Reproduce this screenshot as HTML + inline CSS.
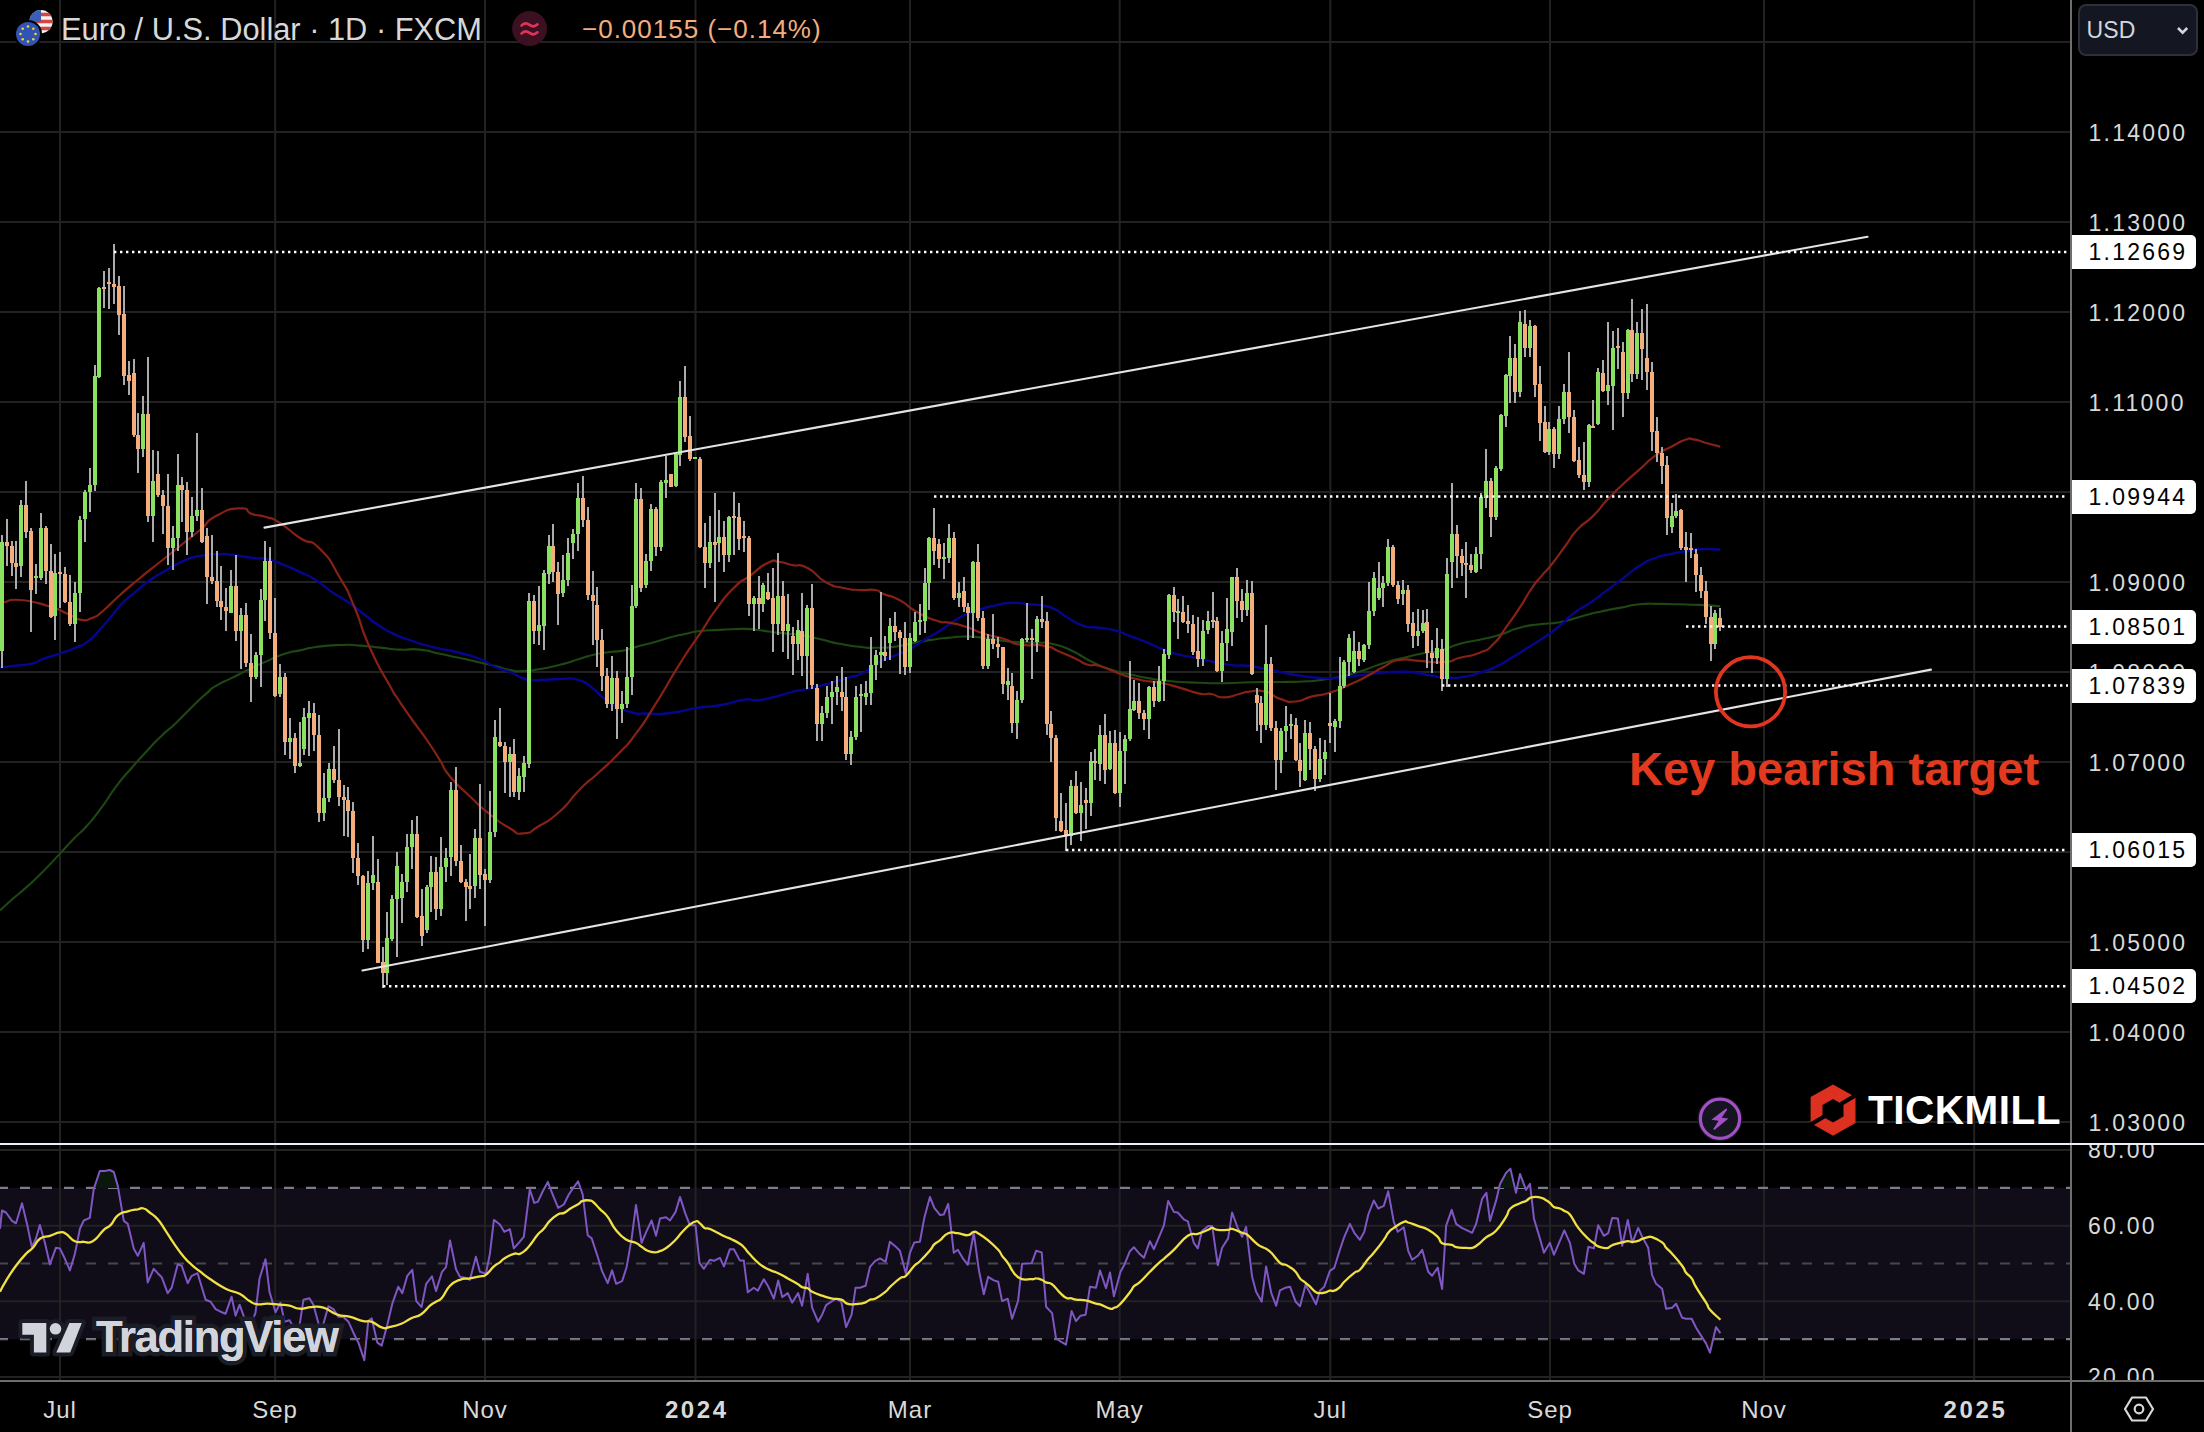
<!DOCTYPE html><html><head><meta charset="utf-8"><title>EURUSD chart</title><style>
*{margin:0;padding:0;box-sizing:border-box}
html,body{width:2204px;height:1432px;background:#000;overflow:hidden}
body{position:relative;font-family:"Liberation Sans",Arial,sans-serif;color:#d6d6d6}
.t{position:absolute;white-space:nowrap;line-height:1}
.pl{position:absolute;left:2088.5px;font-size:23px;letter-spacing:2.25px;line-height:24px;height:24px;white-space:nowrap;color:#d9d9d9}
.pb{position:absolute;left:2072px;width:124px;height:34px;background:#fff;border-radius:0 5px 5px 0;color:#000;font-size:23px;letter-spacing:2.25px;line-height:35.6px;padding-left:16.5px;white-space:nowrap}
.tl{position:absolute;top:1397px;font-size:24px;line-height:26px;letter-spacing:1px;white-space:nowrap;transform:translateX(-50%);color:#d9d9d9}
.tl b{font-weight:700;letter-spacing:2.6px;margin-right:-2.6px}
</style></head><body>
<svg width="2204" height="1432" viewBox="0 0 2204 1432" style="position:absolute;left:0;top:0">
<rect x="0" y="1187.8" width="2070" height="151.4" fill="#100c18"/>
<path d="M60 0V1143M60 1145V1380M275.2 0V1143M275.2 1145V1380M485 0V1143M485 1145V1380M695.5 0V1143M695.5 1145V1380M910 0V1143M910 1145V1380M1119.7 0V1143M1119.7 1145V1380M1330.3 0V1143M1330.3 1145V1380M1550 0V1143M1550 1145V1380M1764 0V1143M1764 1145V1380M1974.2 0V1143M1974.2 1145V1380M0 42H2070M0 132H2070M0 222H2070M0 312H2070M0 402H2070M0 492H2070M0 582H2070M0 672H2070M0 762H2070M0 852H2070M0 942H2070M0 1032H2070M0 1122H2070M0 1150H2070M0 1225.7H2070M0 1301.3H2070M0 1377H2070" stroke="#222222" stroke-width="2" fill="none"/>
<path d="M-2 1187.8H2070M-2 1339.2H2070" stroke="#7b7d88" stroke-width="2.2" stroke-dasharray="10 12" fill="none"/>
<path d="M-2 1263.5H2070" stroke="#454650" stroke-width="2.2" stroke-dasharray="10 12" fill="none"/>
<path d="M0.0 910.5C4.0 906.8 3.3 907.1 12.0 899.5C20.7 891.9 16.7 895.9 26.0 887.6C35.3 879.3 28.7 885.9 40.0 874.6C51.3 863.3 48.7 865.6 60.0 853.6C71.3 841.6 65.3 847.6 74.0 838.6C82.7 829.6 77.3 836.3 86.0 826.7C94.7 817.1 90.0 823.0 100.0 809.7C110.0 796.4 106.0 800.0 116.0 786.7C126.0 773.4 119.3 782.1 130.0 769.8C140.7 757.5 137.3 761.3 148.0 749.8C158.7 738.3 152.7 744.4 162.0 735.4C171.3 726.4 166.0 732.4 176.0 722.9C186.0 713.4 182.0 716.6 192.0 706.9C202.0 697.2 198.0 700.9 206.0 693.9C214.0 686.9 207.3 691.2 216.0 685.9C224.7 680.6 221.3 683.2 232.0 677.9C242.7 672.6 237.3 675.1 248.0 669.9C258.7 664.7 252.0 667.7 264.0 662.4C276.0 657.1 272.0 658.0 284.0 654.0C296.0 650.0 289.3 652.7 300.0 650.4C310.7 648.1 302.7 648.8 316.0 647.0C329.3 645.2 325.3 645.5 340.0 645.0C354.7 644.5 346.7 644.7 360.0 645.6C373.3 646.5 366.7 646.3 380.0 647.6C393.3 648.9 386.7 648.9 400.0 649.6C413.3 650.3 406.7 648.2 420.0 649.6C433.3 651.0 426.7 651.0 440.0 653.8C453.3 656.6 446.7 655.1 460.0 658.0C473.3 660.9 468.3 659.7 480.0 662.4C491.7 665.1 485.0 663.5 495.0 666.0C505.0 668.5 500.7 668.3 510.0 670.0C519.3 671.7 513.0 671.3 523.0 671.0C533.0 670.7 527.7 671.1 540.0 669.0C552.3 666.9 546.7 668.2 560.0 664.8C573.3 661.4 568.3 662.3 580.0 658.8C591.7 655.3 585.0 656.7 595.0 654.4C605.0 652.1 600.0 653.4 610.0 652.0C620.0 650.6 615.0 652.3 625.0 650.2C635.0 648.1 630.0 648.5 640.0 645.8C650.0 643.1 645.0 644.8 655.0 642.0C665.0 639.2 660.0 640.2 670.0 637.5C680.0 634.8 675.0 636.2 685.0 634.0C695.0 631.8 688.3 632.4 700.0 631.0C711.7 629.6 705.4 630.6 720.0 629.9C734.6 629.2 730.5 628.8 743.7 628.9C756.9 629.0 747.6 629.0 759.6 630.3C771.6 631.6 766.3 631.4 779.6 632.9C792.9 634.4 786.3 632.9 799.6 634.9C812.9 636.9 806.2 635.9 819.5 638.9C832.8 641.9 826.2 641.2 839.5 643.8C852.8 646.4 847.5 645.5 859.5 646.8C871.5 648.1 863.4 647.9 875.4 647.8C887.4 647.7 882.1 648.3 895.4 646.6C908.7 644.9 903.4 644.8 915.4 642.6C927.4 640.4 920.7 641.5 931.3 639.9C941.9 638.3 935.3 639.0 947.3 637.9C959.3 636.8 953.8 636.3 967.3 636.5C980.8 636.7 973.0 636.8 987.8 638.5C1002.6 640.2 995.8 640.3 1011.8 641.7C1027.8 643.1 1022.5 642.0 1035.8 642.7C1049.1 643.4 1039.7 641.0 1051.7 643.7C1063.7 646.4 1058.4 644.7 1071.7 650.7C1085.0 656.7 1078.4 655.4 1091.7 661.7C1105.0 668.0 1098.3 665.4 1111.6 669.7C1124.9 674.0 1118.3 671.7 1131.6 674.7C1144.9 677.7 1138.2 676.5 1151.5 678.7C1164.8 680.9 1155.5 680.0 1171.5 681.3C1187.5 682.6 1182.2 682.1 1199.5 682.7C1216.8 683.3 1206.1 683.4 1223.4 683.2C1240.7 683.0 1232.8 682.6 1251.4 682.2C1270.0 681.8 1260.7 682.3 1279.3 682.0C1297.9 681.7 1291.3 682.3 1307.3 681.3C1323.3 680.3 1313.9 681.1 1327.3 679.0C1340.7 676.9 1334.1 678.4 1347.4 675.0C1360.7 671.6 1354.0 673.3 1367.3 668.9C1380.6 664.5 1374.0 665.9 1387.3 661.9C1400.6 657.9 1394.0 660.0 1407.3 656.9C1420.6 653.8 1416.4 654.5 1427.2 652.5C1438.0 650.5 1428.9 653.7 1439.8 650.8C1450.7 647.9 1446.5 647.5 1459.8 643.8C1473.1 640.1 1466.4 642.8 1479.7 639.8C1493.0 636.8 1486.4 638.8 1499.7 634.8C1513.0 630.8 1506.3 631.3 1519.6 627.8C1532.9 624.3 1526.3 626.0 1539.6 624.2C1552.9 622.4 1546.3 624.7 1559.6 622.3C1572.9 619.9 1566.2 620.4 1579.5 616.9C1592.8 613.4 1586.2 614.9 1599.5 611.9C1612.8 608.9 1606.2 610.4 1619.5 607.9C1632.8 605.4 1626.1 605.6 1639.4 604.3C1652.7 603.0 1646.1 603.9 1659.4 603.9C1672.7 603.9 1666.1 604.0 1679.4 604.3C1692.7 604.6 1685.7 604.2 1699.3 604.9C1712.9 605.6 1713.3 605.8 1720.3 606.3" fill="none" stroke="#1d4812" stroke-width="2.1" stroke-linejoin="round"/>
<path d="M0.0 667.6C5.3 666.9 5.3 666.9 16.0 665.6C26.7 664.3 22.7 665.9 32.0 663.6C41.3 661.3 34.7 661.9 44.0 658.6C53.3 655.3 49.3 657.3 60.0 653.6C70.7 649.9 66.7 651.6 76.0 647.6C85.3 643.6 79.9 647.6 87.8 641.6C95.7 635.6 91.8 638.3 99.8 629.7C107.8 621.1 103.8 625.0 111.8 615.7C119.8 606.4 115.8 609.7 123.8 601.7C131.8 593.7 127.8 598.4 135.8 591.7C143.8 585.0 138.4 588.3 147.7 581.7C157.0 575.1 151.7 578.8 163.7 571.8C175.7 564.8 170.4 566.3 183.7 560.8C197.0 555.3 191.6 557.6 203.6 555.4C215.6 553.2 210.3 554.4 219.6 554.2C228.9 554.0 221.0 553.6 231.6 554.8C242.2 556.0 239.5 556.3 251.5 557.8C263.5 559.3 256.8 557.1 267.5 559.4C278.2 561.7 272.8 560.7 283.5 564.8C294.2 568.9 288.9 566.8 299.5 571.8C310.1 576.8 304.8 573.1 315.4 579.7C326.0 586.3 320.7 584.4 331.4 591.7C342.1 599.0 336.8 594.4 347.4 601.7C358.0 609.0 352.7 605.7 363.3 613.7C373.9 621.7 368.6 618.7 379.3 625.7C390.0 632.7 384.6 629.6 395.3 634.6C406.0 639.6 400.7 636.9 411.3 640.6C421.9 644.3 417.6 642.9 427.2 645.6C436.8 648.3 429.1 646.1 440.0 648.6C450.9 651.1 446.7 649.5 460.0 653.0C473.3 656.5 468.3 654.3 480.0 659.0C491.7 663.7 485.0 662.7 495.0 667.0C505.0 671.3 500.0 668.0 510.0 672.0C520.0 676.0 515.0 676.3 525.0 679.0C535.0 681.7 528.3 680.0 540.0 680.0C551.7 680.0 547.3 679.1 560.0 679.0C572.7 678.9 567.3 676.9 578.0 679.8C588.7 682.7 582.7 681.2 592.0 687.8C601.3 694.4 594.7 692.1 606.0 699.7C617.3 707.3 611.3 706.0 625.9 710.7C640.5 715.4 634.5 713.0 649.8 713.7C665.1 714.4 656.5 714.6 671.8 712.7C687.1 710.8 679.8 710.6 695.8 708.1C711.8 705.6 703.7 708.1 719.7 705.3C735.7 702.5 731.7 701.4 743.7 699.7C755.7 698.0 746.3 701.0 755.6 700.3C764.9 699.6 759.6 700.4 771.6 697.7C783.6 695.0 779.6 695.2 791.6 692.2C803.6 689.2 795.6 691.6 807.6 688.8C819.6 686.0 814.2 687.5 827.5 683.8C840.8 680.1 835.5 681.5 847.5 677.8C859.5 674.1 852.9 678.1 863.5 672.8C874.1 667.5 867.4 668.1 879.4 661.8C891.4 655.5 888.5 658.5 899.4 653.8C910.3 649.1 902.5 653.1 912.0 647.7C921.5 642.3 918.7 643.4 928.0 637.7C937.3 632.0 930.7 636.7 940.0 630.7C949.3 624.7 946.6 625.4 955.9 619.8C965.2 614.2 959.9 617.3 967.9 613.8C975.9 610.3 970.6 612.2 979.9 609.4C989.2 606.6 985.2 607.6 995.8 605.4C1006.4 603.2 1001.1 603.2 1011.8 602.8C1022.5 602.4 1017.2 603.2 1027.8 604.2C1038.4 605.2 1034.4 603.9 1043.7 605.8C1053.0 607.7 1047.7 605.8 1055.7 609.8C1063.7 613.8 1058.4 612.5 1067.7 617.8C1077.0 623.1 1073.1 622.5 1083.7 625.8C1094.3 629.1 1089.0 626.2 1099.6 627.8C1110.2 629.4 1104.9 627.7 1115.6 630.7C1126.3 633.7 1120.9 632.7 1131.6 636.7C1142.3 640.7 1137.0 638.4 1147.6 642.7C1158.2 647.0 1152.9 645.7 1163.5 649.7C1174.1 653.7 1168.8 652.0 1179.5 654.7C1190.2 657.4 1184.9 655.5 1195.5 657.7C1206.1 659.9 1199.4 658.8 1211.4 661.3C1223.4 663.8 1219.4 663.6 1231.4 665.1C1243.4 666.6 1236.8 664.6 1247.4 665.7C1258.0 666.8 1252.7 666.5 1263.3 668.5C1273.9 670.5 1267.3 669.4 1279.3 671.8C1291.3 674.2 1285.7 673.6 1299.3 675.6C1312.9 677.6 1307.8 677.2 1320.0 677.9C1332.2 678.6 1324.0 678.5 1336.0 677.8C1348.0 677.1 1342.7 677.3 1356.0 675.8C1369.3 674.3 1361.3 674.7 1376.0 673.4C1390.7 672.1 1386.7 672.0 1400.0 671.8C1413.3 671.6 1405.3 671.5 1416.0 672.8C1426.7 674.1 1421.3 674.1 1432.0 675.8C1442.7 677.5 1437.3 677.5 1448.0 677.8C1458.7 678.1 1453.4 678.5 1464.0 676.8C1474.6 675.1 1469.1 676.1 1479.7 672.8C1490.3 669.5 1485.0 671.8 1495.7 666.8C1506.4 661.8 1501.1 664.1 1511.7 657.8C1522.3 651.5 1517.0 654.5 1527.6 647.8C1538.2 641.1 1532.9 645.1 1543.6 637.8C1554.3 630.5 1549.0 634.4 1559.6 625.8C1570.2 617.2 1564.9 619.9 1575.5 611.9C1586.1 603.9 1580.8 609.2 1591.5 601.9C1602.2 594.6 1596.8 597.9 1607.5 589.9C1618.2 581.9 1612.9 585.9 1623.5 577.9C1634.1 569.9 1628.8 572.6 1639.4 566.0C1650.0 559.4 1644.7 562.0 1655.4 558.0C1666.1 554.0 1660.8 556.3 1671.4 554.0C1682.0 551.7 1676.7 552.7 1687.3 551.0C1697.9 549.3 1692.3 549.5 1703.3 549.0C1714.3 548.5 1714.6 549.4 1720.3 549.6" fill="none" stroke="#05058e" stroke-width="2.4" stroke-linejoin="round"/>
<path d="M0.0 601.0C1.3 601.3 -2.7 602.3 4.0 602.0C10.7 601.7 5.3 598.7 20.0 600.0C34.7 601.3 32.0 601.3 48.0 606.0C64.0 610.7 57.3 609.5 68.0 614.0C78.7 618.5 72.0 618.3 80.0 619.6C88.0 620.9 84.0 621.2 92.0 618.0C100.0 614.8 94.7 617.7 104.0 610.0C113.3 602.3 108.0 605.7 120.0 595.0C132.0 584.3 126.7 589.0 140.0 578.0C153.3 567.0 146.7 572.7 160.0 562.0C173.3 551.3 166.7 556.7 180.0 546.0C193.3 535.3 188.0 540.0 200.0 530.0C212.0 520.0 202.7 523.2 216.0 516.0C229.3 508.8 228.0 509.1 240.0 508.4C252.0 507.7 243.3 511.1 252.0 514.0C260.7 516.9 256.7 514.0 266.0 517.0C275.3 520.0 268.7 516.0 280.0 523.0C291.3 530.0 286.7 529.3 300.0 538.0C313.3 546.7 306.7 535.7 320.0 549.0C333.3 562.3 328.7 559.0 340.0 578.0C351.3 597.0 344.0 582.7 354.0 606.0C364.0 629.3 358.0 621.3 370.0 648.0C382.0 674.7 380.9 669.3 390.0 686.0C399.1 702.7 390.2 687.2 397.3 698.0C404.4 708.8 401.3 704.3 411.3 718.5C421.3 732.7 417.7 726.7 427.2 740.5C436.7 754.3 432.3 748.2 439.8 760.0C447.3 771.8 439.7 764.0 449.6 776.0C459.5 788.0 456.2 783.3 469.5 796.0C482.8 808.7 476.2 803.3 489.5 814.0C502.8 824.7 498.1 821.5 509.4 828.0C520.7 834.5 513.4 834.1 523.4 833.4C533.4 832.7 527.4 833.0 539.4 825.8C551.4 818.6 546.1 823.7 559.4 811.8C572.7 799.9 566.0 803.3 579.3 790.0C592.6 776.7 586.0 784.3 599.3 772.0C612.6 759.7 607.0 765.8 619.2 753.0C631.4 740.2 623.7 750.1 635.9 733.7C648.1 717.3 641.2 727.0 655.8 703.7C670.4 680.4 665.1 687.1 679.8 663.8C694.5 640.5 687.8 651.9 699.8 633.9C711.8 615.9 704.4 625.2 715.7 609.9C727.0 594.6 722.4 599.3 733.7 588.0C745.0 576.7 738.4 584.3 749.7 576.0C761.0 567.7 757.6 567.7 767.6 563.0C777.6 558.3 771.6 561.3 779.6 562.0C787.6 562.7 782.3 563.0 791.6 565.0C800.9 567.0 796.3 562.3 807.6 568.0C818.9 573.7 813.5 575.3 825.5 582.0C837.5 588.7 832.2 585.3 843.5 588.0C854.8 590.7 848.9 589.3 859.5 590.0C870.1 590.7 867.4 588.7 875.4 590.0C883.4 591.3 875.4 590.7 883.4 594.0C891.4 597.3 888.5 594.2 899.4 600.0C910.3 605.8 903.8 604.7 916.0 611.5C928.2 618.3 924.7 616.7 936.0 620.5C947.3 624.3 940.0 620.7 950.0 622.8C960.0 624.9 954.6 623.2 965.9 626.8C977.2 630.4 971.3 629.7 983.9 633.7C996.5 637.7 991.8 635.0 1003.8 638.7C1015.8 642.4 1006.5 642.4 1019.8 644.7C1033.1 647.0 1030.4 643.4 1043.7 645.7C1057.0 648.0 1049.0 647.4 1059.7 651.7C1070.4 656.0 1066.4 654.4 1075.7 658.7C1085.0 663.0 1079.7 662.3 1087.7 664.7C1095.7 667.1 1089.0 663.0 1099.6 666.0C1110.2 669.0 1106.3 669.1 1119.6 673.7C1132.9 678.3 1126.3 676.7 1139.6 679.7C1152.9 682.7 1146.2 680.1 1159.5 682.7C1172.8 685.3 1166.2 684.0 1179.5 687.6C1192.8 691.2 1188.9 691.5 1199.5 693.6C1210.1 695.7 1203.4 692.7 1211.4 694.0C1219.4 695.3 1214.1 697.4 1223.4 697.4C1232.7 697.4 1230.7 695.9 1239.4 694.0C1248.1 692.1 1240.8 692.4 1249.4 691.6C1258.0 690.8 1255.3 689.3 1265.3 691.6C1275.3 693.9 1269.3 695.3 1279.3 698.6C1289.3 701.9 1284.6 702.2 1295.3 701.5C1306.0 700.8 1299.9 699.5 1311.3 696.6C1322.7 693.7 1316.5 696.8 1329.4 692.8C1342.3 688.8 1336.7 690.4 1350.0 684.5C1363.3 678.6 1358.2 680.8 1369.3 675.0C1380.4 669.2 1373.3 672.0 1383.3 667.0C1393.3 662.0 1387.3 662.0 1399.3 660.0C1411.3 658.0 1404.4 660.2 1419.2 660.9C1434.0 661.6 1430.3 663.2 1443.8 662.2C1457.3 661.2 1447.8 660.9 1459.8 657.8C1471.8 654.7 1468.4 657.5 1479.7 652.8C1491.0 648.1 1485.0 652.1 1493.7 643.8C1502.4 635.5 1497.1 639.8 1505.7 627.8C1514.3 615.8 1511.0 621.0 1519.6 607.9C1528.2 594.8 1524.3 599.2 1531.6 588.5C1538.9 577.8 1534.9 583.9 1541.6 575.9C1548.3 567.9 1543.6 574.6 1551.6 564.5C1559.6 554.4 1557.0 557.1 1565.6 545.5C1574.2 533.9 1568.2 539.6 1577.5 529.6C1586.8 519.6 1583.5 525.6 1593.5 515.6C1603.5 505.6 1597.5 510.2 1607.5 499.6C1617.5 489.0 1612.9 493.7 1623.5 483.7C1634.1 473.7 1628.8 479.0 1639.4 469.7C1650.0 460.4 1644.7 463.4 1655.4 455.7C1666.1 448.0 1661.4 452.0 1671.4 446.7C1681.4 441.4 1678.0 442.2 1685.3 439.7C1692.6 437.2 1686.6 438.3 1693.3 439.3C1700.0 440.3 1696.3 440.2 1705.3 442.7C1714.3 445.2 1715.3 445.4 1720.3 446.7" fill="none" stroke="#872115" stroke-width="2.2" stroke-linejoin="round"/>
<path d="M2 534.8V667.6M7 518.9V565.8M12 540.8V575.8M16 540.8V588.7M21 499.9V576.8M26 480.5V537.8M31 527.8V631.7M36 563.8V593.7M41 512.9V579.7M46 525.8V583.7M51 543.8V617.7M55 553.8V639.6M60 551.8V607.7M65 566.8V602.7M70 574.8V625.7M75 581.7V641.6M80 515.9V611.7M85 489.9V541.8M90 467.9V511.9M95 365.2V490.9M99 287.1V378.3M104 271.2V308.0M109 268.1V308.9M114 244.1V304.0M119 276.3V334.9M124 286.2V385.2M129 361.2V395.2M134 359.4V436.9M138 413.3V472.9M143 396.1V456.9M148 357.4V521.9M153 450.0V541.8M158 451.0V496.9M163 489.9V533.8M168 473.5V565.4M173 525.8V569.8M178 454.4V550.8M182 476.9V521.9M187 481.5V555.4M192 496.9V536.8M197 433.3V520.9M202 487.9V543.4M207 527.8V604.1M212 534.8V583.7M217 550.8V607.3M221 565.8V620.1M226 587.7V631.3M231 569.8V613.3M236 554.8V640.6M241 607.7V669.2M246 602.7V667.2M251 633.7V701.9M256 651.6V678.6M261 588.7V687.2M265 540.8V621.3M270 546.8V639.2M275 597.7V696.5M280 663.6V696.5M285 672.8V755.4M290 717.9V759.1M295 732.9V773.4M300 721.9V767.3M304 707.9V754.9M309 700.9V756.3M314 702.9V751.2M319 715.0V822.2M324 772.9V821.4M329 762.9V802.2M334 745.9V782.9M339 729.0V806.2M344 784.9V836.2M348 786.9V836.8M353 801.8V873.3M358 842.8V885.3M363 874.7V951.6M368 870.7V948.6M373 835.8V890.1M378 858.7V963.1M383 947.2V987.5M387 912.0V984.5M392 894.7V940.6M397 852.1V956.6M402 874.1V923.2M407 833.8V892.1M412 819.8V868.7M417 815.8V917.6M422 889.3V945.6M427 884.7V933.2M431 856.1V911.6M436 857.3V920.0M441 836.8V915.6M446 847.8V882.1M451 781.9V876.1M456 766.9V866.1M461 845.4V882.7M466 878.7V921.2M470 854.1V909.2M475 829.4V898.1M480 783.9V889.3M485 869.3V925.6M490 790.9V882.7M495 719.6V837.4M500 708.0V746.9M505 741.5V793.4M510 746.9V797.4M514 738.9V797.4M519 767.9V800.2M524 755.9V792.3M529 592.6V767.5M534 594.6V643.7M539 585.6V645.0M544 569.6V650.0M549 535.3V583.6M553 523.7V581.6M558 561.6V624.5M563 554.6V597.2M568 537.7V586.3M573 528.7V559.2M578 483.4V550.6M583 476.2V527.3M588 506.7V600.2M593 570.8V644.8M597 586.8V667.4M602 628.7V690.8M607 667.8V708.1M612 655.8V710.7M617 670.8V739.4M622 690.8V723.4M627 646.8V708.1M632 584.8V695.4M636 483.4V608.2M641 488.2V592.3M646 553.6V588.3M651 503.7V571.3M656 506.7V555.6M661 480.2V550.6M666 455.8V497.7M671 474.2V487.4M676 451.8V486.8M680 380.9V466.2M685 366.0V442.2M690 416.3V461.4M695 457.4V459.4M700 456.8V547.6M705 522.7V588.3M710 516.1V568.3M715 493.3V602.2M719 510.1V561.6M724 521.3V572.3M729 515.7V561.6M734 492.1V554.6M739 503.3V549.6M744 521.3V551.6M749 535.7V616.2M754 596.0V631.2M759 575.6V629.2M763 583.3V612.4M768 573.4V599.5M773 567.6V652.2M778 552.6V634.9M783 580.8V652.2M788 594.4V658.8M793 626.7V675.4M798 619.5V659.8M802 592.8V676.2M807 604.7V688.8M812 583.6V689.4M817 683.8V740.7M822 706.1V741.3M827 686.2V718.1M832 681.4V724.1M837 675.8V705.3M842 666.8V710.7M846 676.8V760.0M851 730.7V765.2M856 685.8V740.1M861 683.8V732.1M866 680.8V705.3M871 636.9V705.3M876 649.8V680.2M881 592.3V668.2M885 635.5V660.8M890 617.9V660.2M895 612.3V640.9M900 629.9V674.2M905 621.8V675.0M910 632.8V673.0M915 611.8V641.8M920 603.9V634.8M925 567.7V633.1M929 536.9V610.3M934 508.4V565.2M939 538.9V568.1M944 542.9V578.9M949 524.3V563.2M954 532.3V599.5M959 581.7V606.6M964 576.9V612.2M968 602.9V640.2M973 560.9V638.0M978 543.5V621.1M983 610.8V669.3M988 634.0V669.3M993 613.6V649.1M998 637.4V658.1M1003 646.7V693.5M1008 667.8V700.4M1012 672.8V733.3M1017 691.3V739.3M1022 638.2V703.3M1027 602.9V642.2M1032 628.8V679.4M1037 615.7V652.2M1042 595.8V628.3M1047 611.9V735.3M1051 710.7V762.0M1056 734.7V830.6M1061 792.7V832.0M1066 802.6V850.5M1071 780.1V845.2M1076 770.9V814.0M1081 782.1V841.2M1086 788.1V829.2M1091 752.0V816.0M1095 748.6V780.1M1100 725.3V780.7M1105 714.1V784.0M1110 731.0V769.8M1115 730.1V794.1M1120 731.9V806.6M1125 735.0V784.1M1130 660.8V741.2M1134 679.8V711.3M1139 682.8V718.7M1144 709.7V729.5M1149 685.7V739.3M1154 680.8V707.3M1159 665.8V702.1M1164 648.8V701.3M1169 593.8V659.4M1174 586.8V622.3M1178 599.4V639.4M1183 595.8V622.9M1188 604.9V633.4M1193 614.9V655.4M1198 616.9V667.4M1203 619.9V666.2M1208 610.9V634.2M1213 591.8V627.9M1217 616.9V671.8M1222 630.8V682.2M1227 597.8V661.4M1232 576.8V646.2M1237 567.9V618.3M1242 589.4V622.3M1247 579.8V615.5M1252 580.8V674.8M1257 687.7V731.3M1261 695.7V743.2M1266 624.9V730.1M1271 657.4V731.3M1276 721.3V790.1M1281 727.7V773.2M1286 705.7V752.0M1291 714.1V738.7M1296 717.7V761.2M1300 742.6V787.3M1305 720.1V780.7M1310 722.1V769.6M1315 745.6V791.3M1320 737.9V782.3M1325 739.6V774.6M1330 692.9V743.4M1335 718.7V752.0M1340 656.8V728.1M1344 659.6V688.2M1349 634.1V675.6M1354 630.9V672.8M1359 641.9V666.2M1364 643.5V662.2M1369 581.5V649.2M1374 571.7V615.9M1379 561.5V599.5M1383 576.3V606.9M1388 538.6V586.3M1393 544.5V586.9M1398 580.9V603.5M1403 579.9V604.9M1408 584.9V632.1M1413 611.6V648.3M1418 608.6V646.1M1423 610.2V632.6M1427 608.9V668.0M1432 639.9V673.1M1437 627.9V664.0M1442 639.4V691.3M1447 557.5V687.3M1452 483.3V588.3M1457 524.6V577.9M1462 548.8V575.9M1466 541.6V598.3M1471 553.8V573.3M1476 546.8V573.0M1481 492.6V569.3M1486 449.3V508.0M1491 477.7V537.2M1496 465.7V520.0M1501 413.8V471.3M1506 373.8V427.4M1510 335.5V403.4M1515 343.5V402.8M1520 311.0V397.4M1525 310.0V356.9M1530 320.3V356.9M1535 324.9V397.4M1540 366.3V441.3M1545 406.2V453.3M1549 422.2V455.3M1554 426.8V468.1M1559 406.2V459.3M1564 384.2V424.2M1569 352.3V433.3M1574 410.2V461.7M1579 447.3V478.1M1584 442.1V490.0M1589 424.2V486.6M1593 400.2V428.2M1598 368.3V425.4M1603 360.3V392.2M1608 322.3V405.4M1613 330.9V430.1M1618 328.3V368.9M1623 341.5V417.4M1628 328.9V399.4M1632 299.0V382.2M1637 322.3V378.8M1642 309.0V380.2M1647 304.4V390.2M1652 362.3V451.3M1657 417.4V462.1M1662 447.3V484.1M1667 456.1V535.2M1672 503.2V533.2M1676 494.0V517.6M1681 508.6V549.8M1686 532.0V581.5M1691 533.2V558.4M1696 548.5V592.3M1701 566.7V598.3M1706 580.9V624.2M1711 605.9V661.4M1715 609.9V649.4M1720 607.9V631.4" stroke="#ababab" stroke-width="2" fill="none" shape-rendering="crispEdges"/>
<path d="M2 541.8V650.6M21 504.9V565.8M36 575.6V577.6M41 527.8V577.8M55 572.8V615.7M75 592.7V624.1M80 519.9V592.7M85 491.5V518.9M90 484.9V491.5M95 376.1V484.9M99 288.1V377.0M143 414.2V449.0M153 480.5V515.5M173 537.8V547.8M178 484.9V537.8M192 515.9V531.8M197 509.9V515.9M231 585.7V612.7M241 614.7V631.3M256 654.6V677.2M261 599.7V655.2M265 560.8V599.7M280 676.6V693.5M290 737.9V742.3M300 762.8V766.2M304 716.9V749.2M309 712.9V717.5M324 797.8V813.4M329 768.9V798.2M368 883.3V939.6M373 874.7V883.3M387 938.0V972.5M392 898.7V938.6M397 865.7V899.3M402 882.1V897.7M407 846.8V882.1M412 833.8V847.4M427 886.7V929.6M431 871.7V887.3M441 866.7V909.2M446 857.7V867.3M451 789.9V857.3M475 837.8V885.7M490 831.8V879.7M495 737.0V832.2M510 753.9V762.3M519 775.9V791.5M524 762.9V776.9M529 600.5V763.5M539 624.5V630.5M544 573.2V625.5M549 545.6V573.6M563 579.6V593.3M568 552.6V580.3M573 533.7V543.3M578 498.1V534.1M612 677.8V704.1M622 704.1V709.3M627 676.8V704.1M632 605.7V677.4M636 499.3V606.1M646 560.6V585.1M651 509.3V561.1M661 481.8V547.2M666 479.8V483.4M676 453.8V486.2M680 396.9V454.8M695 457.4V459.4M710 541.7V563.1M719 536.7V543.3M729 516.7V555.2M754 597.5V604.4M763 584.5V604.4M778 595.5V624.4M788 623.7V631.2M798 630.4V644.2M807 607.5V656.2M822 712.7V724.1M827 696.8V713.3M832 691.8V697.4M837 686.8V692.2M851 736.7V754.1M856 696.8V737.3M861 693.8V695.8M866 692.8V697.4M871 664.8V693.4M876 654.8V665.4M881 651.8V655.4M890 625.5V642.9M910 637.8V667.3M915 621.8V641.4M920 619.5V621.5M925 582.9V621.1M929 537.9V582.9M944 556.6V558.6M949 537.9V557.9M959 592.9V597.7M973 562.3V612.8M988 638.5V665.5M1008 680.8V684.7M1017 699.7V723.3M1022 639.4V700.1M1027 637.7V639.7M1037 618.9V641.8M1071 785.7V835.6M1081 804.6V813.2M1091 760.6V803.2M1100 734.7V763.6M1110 742.6V768.6M1120 750.6V793.3M1125 738.7V751.2M1130 708.7V739.4M1134 700.7V710.1M1149 687.3V719.3M1159 680.8V700.7M1164 654.2V681.4M1169 594.8V655.4M1178 610.6V612.6M1203 630.8V659.4M1208 620.9V630.2M1222 642.8V671.4M1227 628.8V643.4M1232 577.4V632.2M1247 592.8V610.3M1266 663.8V725.3M1281 730.7V760.0M1286 725.7V731.3M1291 723.5V725.5M1305 732.7V780.1M1320 758.9V779.4M1325 752.0V759.3M1335 720.7V726.7M1340 685.8V721.3M1344 661.6V686.2M1349 637.5V661.8M1354 650.9V671.8M1364 644.9V659.8M1369 610.9V644.9M1374 577.5V610.9M1379 587.9V598.3M1383 582.9V588.3M1388 546.5V582.9M1403 589.9V594.3M1418 630.6V636.1M1423 622.6V631.2M1437 648.4V658.0M1447 573.5V679.3M1452 534.0V562.2M1476 553.8V571.9M1481 497.2V553.9M1486 480.7V498.0M1496 468.1V517.2M1501 414.8V468.7M1506 374.8V416.2M1510 357.5V375.8M1520 322.3V392.2M1530 326.3V347.9M1549 429.3V452.1M1559 418.8V454.1M1564 392.2V418.8M1589 425.4V482.1M1598 372.3V424.2M1608 385.4V390.8M1613 347.5V385.8M1628 329.9V392.8M1637 332.9V373.8M1672 515.6V526.6M1676 510.6V516.0M1715 612.9V644.2" stroke="#8ae05f" stroke-width="4" fill="none" shape-rendering="crispEdges"/>
<path d="M7 541.8V546.2M12 545.8V562.8M16 562.8V566.8M26 504.9V531.8M31 530.8V589.7M46 527.8V570.8M51 570.8V616.7M60 571.6V573.6M65 573.8V602.1M70 601.7V624.1M104 287.1V289.1M109 282.2V284.2M114 284.1V286.8M119 286.2V314.7M124 314.4V375.7M129 375.2V381.0M134 372.5V435.1M138 434.6V449.0M148 414.2V515.5M158 474.3V494.9M163 494.9V505.9M168 505.5V547.8M182 484.9V489.9M187 489.5V531.8M202 509.9V542.2M207 535.8V577.4M212 576.8V581.3M217 580.7V600.7M221 600.7V606.7M226 606.7V611.3M236 585.7V630.7M246 614.7V663.2M251 663.2V677.2M270 560.8V633.3M275 632.7V695.9M285 676.8V742.4M295 737.9V766.2M314 712.9V735.2M319 735.0V813.4M334 768.9V780.3M339 779.9V797.4M344 796.8V800.2M348 800.2V811.4M353 810.8V858.1M358 858.1V876.1M363 875.7V939.6M378 881.7V962.5M383 961.9V972.5M417 833.8V916.6M422 916.0V935.6M436 871.7V909.2M456 789.9V861.3M461 860.7V882.1M466 882.1V886.7M470 886.1V889.3M480 837.8V874.7M485 874.1V879.7M500 741.9V746.3M505 745.9V762.3M514 753.9V791.5M534 600.5V630.5M553 545.6V572.0M558 571.6V593.6M583 498.1V520.1M588 519.7V595.0M593 594.7V601.0M597 604.7V640.3M602 639.9V676.2M607 675.8V704.1M617 677.8V709.3M641 499.3V588.1M656 509.3V547.2M671 474.2V486.8M685 396.9V436.8M690 436.2V459.4M700 458.8V547.2M705 546.6V563.1M715 541.7V545.2M724 536.7V555.2M734 515.5V517.5M739 516.7V539.3M744 535.5V537.5M749 538.1V604.2M759 597.5V604.4M768 591.6V599.0M773 597.5V624.4M783 595.5V630.9M793 635.5V644.2M802 631.2V656.2M812 607.5V684.8M817 687.8V724.1M842 691.8V697.4M846 696.8V754.1M885 651.8V656.2M895 625.5V632.3M900 632.3V638.3M905 637.8V667.3M934 537.9V550.9M939 543.5V558.9M954 537.9V597.7M964 590.9V607.2M968 606.9V612.8M978 562.3V618.2M983 617.8V666.4M993 638.8V644.0M998 643.6V647.4M1003 646.8V684.1M1012 685.7V723.3M1032 637.6V639.6M1042 618.9V621.5M1047 620.9V724.1M1051 724.1V738.4M1056 738.1V817.6M1061 820.6V830.6M1066 830.0V835.6M1076 785.7V813.2M1086 800.0V803.2M1095 760.6V763.4M1105 734.7V769.8M1115 742.6V793.3M1139 700.7V713.3M1144 712.7V719.3M1154 687.3V701.3M1174 594.8V612.3M1183 612.3V621.9M1188 620.9V624.3M1193 623.5V652.2M1198 651.4V659.4M1213 619.7V621.7M1217 620.9V671.4M1237 577.4V600.9M1242 600.9V610.3M1252 592.8V674.2M1257 694.7V703.3M1261 702.7V725.3M1271 663.8V728.1M1276 727.7V760.0M1296 724.7V760.0M1300 759.6V770.6M1310 732.7V749.2M1315 748.6V779.3M1330 722.7V726.1M1359 650.9V659.4M1393 546.5V584.9M1398 584.9V598.9M1408 589.9V623.7M1413 623.4V636.1M1427 622.1V652.9M1432 652.6V658.0M1442 648.8V679.3M1457 534.0V556.2M1462 555.7V563.0M1466 562.7V565.0M1471 564.7V569.5M1491 480.7V517.2M1515 357.5V392.2M1525 324.3V347.9M1535 325.9V384.8M1540 384.2V422.8M1545 422.2V452.1M1554 429.3V454.1M1569 392.2V416.8M1574 417.4V461.3M1579 460.1V475.3M1584 474.7V482.1M1593 425.8V427.8M1603 373.4V391.4M1618 346.1V348.1M1623 351.5V392.8M1632 329.9V373.8M1642 332.9V348.9M1647 357.5V371.9M1652 371.5V432.1M1657 431.3V453.3M1662 452.7V466.1M1667 465.3V518.0M1681 510.0V548.0M1686 547.1V550.0M1691 548.2V550.2M1696 553.8V574.9M1701 574.7V590.9M1706 590.9V616.9M1711 616.9V644.2M1720 618.3V626.8" stroke="#f4ae7c" stroke-width="4" fill="none" shape-rendering="crispEdges"/>
<path d="M264.5 527.6L1867.5 236.8M812 1305" stroke="#e4e4e4" stroke-width="2.1" fill="none" stroke-linecap="round"/>
<path d="M362.5 970.5L1931 669.6" stroke="#e4e4e4" stroke-width="2.1" fill="none" stroke-linecap="round"/>
<path d="M114 252H2068" stroke="#fff" stroke-width="2.4" stroke-dasharray="2.4 3.6" fill="none"/>
<path d="M934 496.5H2068" stroke="#fff" stroke-width="2.4" stroke-dasharray="2.4 3.6" fill="none"/>
<path d="M1686 626.5H2068" stroke="#fff" stroke-width="2.4" stroke-dasharray="2.4 3.6" fill="none"/>
<path d="M1442 685.5H2068" stroke="#fff" stroke-width="2.4" stroke-dasharray="2.4 3.6" fill="none"/>
<path d="M1066 850H2068" stroke="#fff" stroke-width="2.4" stroke-dasharray="2.4 3.6" fill="none"/>
<path d="M383 986.2H2068" stroke="#fff" stroke-width="2.4" stroke-dasharray="2.4 3.6" fill="none"/>
<defs><clipPath id="ob"><rect x="0" y="1146" width="2070" height="42"/></clipPath><clipPath id="os"><rect x="0" y="1339.2" width="2070" height="41"/></clipPath></defs>
<polygon points="0.0,1188 0.0,1228.8 2.0,1210.5 6.0,1212.5 12.0,1220.9 16.0,1223.3 22.0,1203.3 27.0,1223.9 31.9,1247.2 35.9,1238.8 39.9,1224.9 44.9,1242.8 49.9,1264.4 55.9,1247.8 59.9,1248.4 64.9,1258.8 69.9,1270.4 74.9,1253.8 79.9,1228.8 83.8,1220.5 89.8,1217.9 93.8,1188.9 99.8,1171.0 104.8,1171.0 109.8,1170.0 113.8,1172.0 117.8,1185.9 123.8,1220.9 127.8,1223.9 133.8,1248.8 137.8,1255.8 143.7,1242.8 147.7,1282.4 153.7,1268.8 157.7,1273.2 161.7,1277.2 167.7,1293.1 171.7,1287.7 177.7,1264.4 181.7,1265.8 187.7,1283.2 191.7,1275.8 197.6,1273.2 205.6,1299.7 210.6,1301.7 215.6,1309.1 220.6,1311.7 225.6,1313.7 231.6,1296.7 235.6,1315.7 239.6,1304.7 244.6,1318.7 250.5,1325.7 255.5,1312.7 259.5,1278.8 265.5,1259.2 269.5,1291.7 275.5,1312.3 280.5,1302.7 284.5,1321.7 289.5,1320.3 294.5,1328.7 299.5,1325.7 303.5,1299.7 309.4,1298.3 313.4,1304.7 319.4,1326.7 323.4,1323.7 328.4,1306.3 333.4,1309.1 338.4,1316.7 343.4,1317.1 348.4,1321.7 353.4,1332.7 358.4,1342.6 364.3,1360.2 368.3,1320.7 371.7,1318.3 377.3,1342.6 381.7,1345.6 387.3,1324.7 392.3,1303.7 398.3,1286.7 402.3,1293.1 407.3,1275.8 412.3,1269.8 416.3,1301.1 421.6,1307.1 426.2,1283.8 432.0,1276.4 436.0,1291.1 442.0,1271.8 446.0,1267.2 450.0,1240.4 456.0,1269.2 459.9,1276.8 464.9,1277.8 469.9,1279.8 475.9,1256.8 479.9,1271.8 485.9,1273.8 489.9,1253.8 493.9,1219.9 499.9,1224.5 504.3,1231.8 509.9,1229.2 513.8,1248.4 518.8,1242.8 523.8,1236.8 529.8,1189.3 534.2,1202.9 537.8,1201.9 542.8,1191.3 547.8,1181.9 552.8,1194.9 558.2,1207.9 563.8,1204.5 568.8,1194.5 573.3,1187.9 578.1,1181.3 582.7,1194.5 587.7,1235.2 591.7,1238.4 597.7,1256.8 602.1,1271.2 607.7,1283.2 612.1,1270.4 616.1,1283.8 622.1,1281.2 626.6,1267.2 631.6,1238.8 636.0,1204.9 641.6,1242.8 646.6,1231.2 651.6,1220.5 656.0,1235.8 660.0,1218.5 666.0,1217.3 670.0,1220.5 675.6,1211.9 680.0,1196.9 685.1,1212.9 689.9,1225.3 695.5,1225.3 699.5,1262.8 703.9,1268.8 709.9,1259.8 713.9,1260.8 719.9,1257.8 723.9,1266.4 729.9,1249.2 733.9,1249.2 739.8,1260.4 743.8,1260.4 747.8,1292.3 753.8,1287.7 757.8,1290.7 763.8,1279.2 767.8,1285.7 773.8,1298.7 778.2,1280.4 782.2,1297.1 787.8,1293.1 792.1,1302.7 798.1,1293.1 802.1,1305.7 807.7,1273.8 812.1,1307.7 818.1,1321.7 822.1,1314.7 826.1,1305.1 831.3,1301.7 836.1,1298.7 841.3,1301.7 846.1,1327.1 851.6,1314.7 855.6,1287.7 860.0,1287.7 865.6,1285.7 870.0,1266.8 875.0,1261.2 880.0,1258.4 885.6,1261.8 889.9,1241.8 895.5,1246.4 899.9,1250.8 905.9,1273.8 909.9,1252.8 914.3,1242.4 919.9,1241.8 924.3,1217.9 929.9,1196.9 934.3,1207.9 939.9,1214.9 943.8,1214.5 948.2,1203.9 953.8,1252.8 957.8,1249.8 963.4,1259.2 967.8,1264.8 973.8,1232.8 978.8,1269.8 983.8,1294.3 988.2,1276.8 993.8,1280.4 998.2,1281.8 1002.1,1301.1 1007.7,1298.7 1012.1,1318.7 1018.1,1300.7 1022.1,1263.8 1031.7,1263.2 1036.1,1250.8 1041.7,1252.4 1046.1,1306.7 1052.1,1313.1 1056.0,1338.3 1061.6,1342.2 1066.0,1344.6 1071.6,1311.1 1076.0,1321.1 1080.6,1315.7 1085.6,1314.7 1090.0,1286.7 1096.0,1287.7 1100.0,1270.4 1106.0,1288.3 1110.0,1272.4 1113.9,1296.3 1120.5,1271.8 1124.5,1264.4 1129.9,1251.2 1133.9,1247.2 1139.5,1253.8 1143.9,1257.8 1149.9,1241.2 1153.9,1249.2 1159.5,1235.8 1163.9,1225.3 1168.2,1200.9 1173.8,1211.9 1177.8,1212.5 1183.8,1219.3 1187.8,1221.3 1193.8,1242.8 1197.8,1248.4 1201.8,1231.2 1208.2,1225.9 1212.2,1225.9 1217.8,1265.2 1222.1,1247.8 1228.1,1238.4 1232.1,1212.5 1237.7,1227.9 1242.1,1236.8 1246.1,1226.9 1252.1,1276.8 1256.1,1291.7 1261.7,1301.7 1266.1,1266.4 1271.3,1293.1 1276.1,1305.7 1280.0,1290.3 1285.6,1287.7 1290.0,1286.7 1295.6,1301.7 1300.0,1306.3 1305.6,1284.7 1310.0,1292.7 1316.0,1304.3 1319.9,1290.7 1324.3,1286.7 1329.9,1270.8 1334.3,1267.8 1339.9,1249.8 1344.3,1236.8 1349.9,1223.9 1354.3,1232.8 1359.9,1239.8 1364.3,1231.8 1368.3,1214.5 1373.8,1200.5 1378.2,1208.5 1383.8,1205.9 1388.2,1191.3 1393.8,1221.9 1397.8,1231.8 1403.8,1227.3 1408.2,1250.8 1412.2,1259.8 1417.8,1255.8 1422.2,1249.8 1428.2,1271.8 1432.1,1275.8 1437.7,1267.8 1442.1,1289.1 1446.1,1225.9 1451.7,1209.9 1456.1,1223.9 1461.7,1227.9 1466.1,1229.8 1472.1,1232.8 1476.1,1223.9 1482.1,1198.9 1486.4,1192.9 1490.0,1220.9 1496.0,1200.9 1500.0,1183.9 1506.0,1172.9 1510.4,1168.6 1516.0,1192.9 1520.0,1173.9 1526.0,1189.9 1530.0,1183.9 1534.0,1218.9 1540.0,1238.8 1543.9,1252.8 1549.9,1242.8 1553.9,1254.8 1559.9,1240.8 1564.3,1230.4 1569.9,1242.8 1574.3,1263.8 1578.3,1270.4 1583.9,1273.8 1588.3,1246.8 1593.9,1248.4 1598.2,1225.3 1603.8,1235.8 1608.2,1233.2 1612.2,1217.9 1617.8,1218.5 1622.2,1245.8 1627.8,1219.9 1632.2,1242.8 1638.2,1227.9 1642.2,1236.8 1648.2,1247.8 1652.1,1275.2 1656.1,1283.8 1662.1,1288.7 1666.1,1308.7 1672.1,1307.7 1676.1,1303.7 1682.1,1317.7 1686.1,1318.7 1691.7,1318.7 1696.1,1327.7 1706.1,1343.6 1710.0,1352.6 1716.0,1327.1 1720.4,1333.1 1720.4,1188" fill="#0a170b" clip-path="url(#ob)"/>
<polygon points="0.0,1339.2 0.0,1228.8 2.0,1210.5 6.0,1212.5 12.0,1220.9 16.0,1223.3 22.0,1203.3 27.0,1223.9 31.9,1247.2 35.9,1238.8 39.9,1224.9 44.9,1242.8 49.9,1264.4 55.9,1247.8 59.9,1248.4 64.9,1258.8 69.9,1270.4 74.9,1253.8 79.9,1228.8 83.8,1220.5 89.8,1217.9 93.8,1188.9 99.8,1171.0 104.8,1171.0 109.8,1170.0 113.8,1172.0 117.8,1185.9 123.8,1220.9 127.8,1223.9 133.8,1248.8 137.8,1255.8 143.7,1242.8 147.7,1282.4 153.7,1268.8 157.7,1273.2 161.7,1277.2 167.7,1293.1 171.7,1287.7 177.7,1264.4 181.7,1265.8 187.7,1283.2 191.7,1275.8 197.6,1273.2 205.6,1299.7 210.6,1301.7 215.6,1309.1 220.6,1311.7 225.6,1313.7 231.6,1296.7 235.6,1315.7 239.6,1304.7 244.6,1318.7 250.5,1325.7 255.5,1312.7 259.5,1278.8 265.5,1259.2 269.5,1291.7 275.5,1312.3 280.5,1302.7 284.5,1321.7 289.5,1320.3 294.5,1328.7 299.5,1325.7 303.5,1299.7 309.4,1298.3 313.4,1304.7 319.4,1326.7 323.4,1323.7 328.4,1306.3 333.4,1309.1 338.4,1316.7 343.4,1317.1 348.4,1321.7 353.4,1332.7 358.4,1342.6 364.3,1360.2 368.3,1320.7 371.7,1318.3 377.3,1342.6 381.7,1345.6 387.3,1324.7 392.3,1303.7 398.3,1286.7 402.3,1293.1 407.3,1275.8 412.3,1269.8 416.3,1301.1 421.6,1307.1 426.2,1283.8 432.0,1276.4 436.0,1291.1 442.0,1271.8 446.0,1267.2 450.0,1240.4 456.0,1269.2 459.9,1276.8 464.9,1277.8 469.9,1279.8 475.9,1256.8 479.9,1271.8 485.9,1273.8 489.9,1253.8 493.9,1219.9 499.9,1224.5 504.3,1231.8 509.9,1229.2 513.8,1248.4 518.8,1242.8 523.8,1236.8 529.8,1189.3 534.2,1202.9 537.8,1201.9 542.8,1191.3 547.8,1181.9 552.8,1194.9 558.2,1207.9 563.8,1204.5 568.8,1194.5 573.3,1187.9 578.1,1181.3 582.7,1194.5 587.7,1235.2 591.7,1238.4 597.7,1256.8 602.1,1271.2 607.7,1283.2 612.1,1270.4 616.1,1283.8 622.1,1281.2 626.6,1267.2 631.6,1238.8 636.0,1204.9 641.6,1242.8 646.6,1231.2 651.6,1220.5 656.0,1235.8 660.0,1218.5 666.0,1217.3 670.0,1220.5 675.6,1211.9 680.0,1196.9 685.1,1212.9 689.9,1225.3 695.5,1225.3 699.5,1262.8 703.9,1268.8 709.9,1259.8 713.9,1260.8 719.9,1257.8 723.9,1266.4 729.9,1249.2 733.9,1249.2 739.8,1260.4 743.8,1260.4 747.8,1292.3 753.8,1287.7 757.8,1290.7 763.8,1279.2 767.8,1285.7 773.8,1298.7 778.2,1280.4 782.2,1297.1 787.8,1293.1 792.1,1302.7 798.1,1293.1 802.1,1305.7 807.7,1273.8 812.1,1307.7 818.1,1321.7 822.1,1314.7 826.1,1305.1 831.3,1301.7 836.1,1298.7 841.3,1301.7 846.1,1327.1 851.6,1314.7 855.6,1287.7 860.0,1287.7 865.6,1285.7 870.0,1266.8 875.0,1261.2 880.0,1258.4 885.6,1261.8 889.9,1241.8 895.5,1246.4 899.9,1250.8 905.9,1273.8 909.9,1252.8 914.3,1242.4 919.9,1241.8 924.3,1217.9 929.9,1196.9 934.3,1207.9 939.9,1214.9 943.8,1214.5 948.2,1203.9 953.8,1252.8 957.8,1249.8 963.4,1259.2 967.8,1264.8 973.8,1232.8 978.8,1269.8 983.8,1294.3 988.2,1276.8 993.8,1280.4 998.2,1281.8 1002.1,1301.1 1007.7,1298.7 1012.1,1318.7 1018.1,1300.7 1022.1,1263.8 1031.7,1263.2 1036.1,1250.8 1041.7,1252.4 1046.1,1306.7 1052.1,1313.1 1056.0,1338.3 1061.6,1342.2 1066.0,1344.6 1071.6,1311.1 1076.0,1321.1 1080.6,1315.7 1085.6,1314.7 1090.0,1286.7 1096.0,1287.7 1100.0,1270.4 1106.0,1288.3 1110.0,1272.4 1113.9,1296.3 1120.5,1271.8 1124.5,1264.4 1129.9,1251.2 1133.9,1247.2 1139.5,1253.8 1143.9,1257.8 1149.9,1241.2 1153.9,1249.2 1159.5,1235.8 1163.9,1225.3 1168.2,1200.9 1173.8,1211.9 1177.8,1212.5 1183.8,1219.3 1187.8,1221.3 1193.8,1242.8 1197.8,1248.4 1201.8,1231.2 1208.2,1225.9 1212.2,1225.9 1217.8,1265.2 1222.1,1247.8 1228.1,1238.4 1232.1,1212.5 1237.7,1227.9 1242.1,1236.8 1246.1,1226.9 1252.1,1276.8 1256.1,1291.7 1261.7,1301.7 1266.1,1266.4 1271.3,1293.1 1276.1,1305.7 1280.0,1290.3 1285.6,1287.7 1290.0,1286.7 1295.6,1301.7 1300.0,1306.3 1305.6,1284.7 1310.0,1292.7 1316.0,1304.3 1319.9,1290.7 1324.3,1286.7 1329.9,1270.8 1334.3,1267.8 1339.9,1249.8 1344.3,1236.8 1349.9,1223.9 1354.3,1232.8 1359.9,1239.8 1364.3,1231.8 1368.3,1214.5 1373.8,1200.5 1378.2,1208.5 1383.8,1205.9 1388.2,1191.3 1393.8,1221.9 1397.8,1231.8 1403.8,1227.3 1408.2,1250.8 1412.2,1259.8 1417.8,1255.8 1422.2,1249.8 1428.2,1271.8 1432.1,1275.8 1437.7,1267.8 1442.1,1289.1 1446.1,1225.9 1451.7,1209.9 1456.1,1223.9 1461.7,1227.9 1466.1,1229.8 1472.1,1232.8 1476.1,1223.9 1482.1,1198.9 1486.4,1192.9 1490.0,1220.9 1496.0,1200.9 1500.0,1183.9 1506.0,1172.9 1510.4,1168.6 1516.0,1192.9 1520.0,1173.9 1526.0,1189.9 1530.0,1183.9 1534.0,1218.9 1540.0,1238.8 1543.9,1252.8 1549.9,1242.8 1553.9,1254.8 1559.9,1240.8 1564.3,1230.4 1569.9,1242.8 1574.3,1263.8 1578.3,1270.4 1583.9,1273.8 1588.3,1246.8 1593.9,1248.4 1598.2,1225.3 1603.8,1235.8 1608.2,1233.2 1612.2,1217.9 1617.8,1218.5 1622.2,1245.8 1627.8,1219.9 1632.2,1242.8 1638.2,1227.9 1642.2,1236.8 1648.2,1247.8 1652.1,1275.2 1656.1,1283.8 1662.1,1288.7 1666.1,1308.7 1672.1,1307.7 1676.1,1303.7 1682.1,1317.7 1686.1,1318.7 1691.7,1318.7 1696.1,1327.7 1706.1,1343.6 1710.0,1352.6 1716.0,1327.1 1720.4,1333.1 1720.4,1339.2" fill="#1a0909" clip-path="url(#os)"/>
<polyline points="0.0,1228.8 2.0,1210.5 6.0,1212.5 12.0,1220.9 16.0,1223.3 22.0,1203.3 27.0,1223.9 31.9,1247.2 35.9,1238.8 39.9,1224.9 44.9,1242.8 49.9,1264.4 55.9,1247.8 59.9,1248.4 64.9,1258.8 69.9,1270.4 74.9,1253.8 79.9,1228.8 83.8,1220.5 89.8,1217.9 93.8,1188.9 99.8,1171.0 104.8,1171.0 109.8,1170.0 113.8,1172.0 117.8,1185.9 123.8,1220.9 127.8,1223.9 133.8,1248.8 137.8,1255.8 143.7,1242.8 147.7,1282.4 153.7,1268.8 157.7,1273.2 161.7,1277.2 167.7,1293.1 171.7,1287.7 177.7,1264.4 181.7,1265.8 187.7,1283.2 191.7,1275.8 197.6,1273.2 205.6,1299.7 210.6,1301.7 215.6,1309.1 220.6,1311.7 225.6,1313.7 231.6,1296.7 235.6,1315.7 239.6,1304.7 244.6,1318.7 250.5,1325.7 255.5,1312.7 259.5,1278.8 265.5,1259.2 269.5,1291.7 275.5,1312.3 280.5,1302.7 284.5,1321.7 289.5,1320.3 294.5,1328.7 299.5,1325.7 303.5,1299.7 309.4,1298.3 313.4,1304.7 319.4,1326.7 323.4,1323.7 328.4,1306.3 333.4,1309.1 338.4,1316.7 343.4,1317.1 348.4,1321.7 353.4,1332.7 358.4,1342.6 364.3,1360.2 368.3,1320.7 371.7,1318.3 377.3,1342.6 381.7,1345.6 387.3,1324.7 392.3,1303.7 398.3,1286.7 402.3,1293.1 407.3,1275.8 412.3,1269.8 416.3,1301.1 421.6,1307.1 426.2,1283.8 432.0,1276.4 436.0,1291.1 442.0,1271.8 446.0,1267.2 450.0,1240.4 456.0,1269.2 459.9,1276.8 464.9,1277.8 469.9,1279.8 475.9,1256.8 479.9,1271.8 485.9,1273.8 489.9,1253.8 493.9,1219.9 499.9,1224.5 504.3,1231.8 509.9,1229.2 513.8,1248.4 518.8,1242.8 523.8,1236.8 529.8,1189.3 534.2,1202.9 537.8,1201.9 542.8,1191.3 547.8,1181.9 552.8,1194.9 558.2,1207.9 563.8,1204.5 568.8,1194.5 573.3,1187.9 578.1,1181.3 582.7,1194.5 587.7,1235.2 591.7,1238.4 597.7,1256.8 602.1,1271.2 607.7,1283.2 612.1,1270.4 616.1,1283.8 622.1,1281.2 626.6,1267.2 631.6,1238.8 636.0,1204.9 641.6,1242.8 646.6,1231.2 651.6,1220.5 656.0,1235.8 660.0,1218.5 666.0,1217.3 670.0,1220.5 675.6,1211.9 680.0,1196.9 685.1,1212.9 689.9,1225.3 695.5,1225.3 699.5,1262.8 703.9,1268.8 709.9,1259.8 713.9,1260.8 719.9,1257.8 723.9,1266.4 729.9,1249.2 733.9,1249.2 739.8,1260.4 743.8,1260.4 747.8,1292.3 753.8,1287.7 757.8,1290.7 763.8,1279.2 767.8,1285.7 773.8,1298.7 778.2,1280.4 782.2,1297.1 787.8,1293.1 792.1,1302.7 798.1,1293.1 802.1,1305.7 807.7,1273.8 812.1,1307.7 818.1,1321.7 822.1,1314.7 826.1,1305.1 831.3,1301.7 836.1,1298.7 841.3,1301.7 846.1,1327.1 851.6,1314.7 855.6,1287.7 860.0,1287.7 865.6,1285.7 870.0,1266.8 875.0,1261.2 880.0,1258.4 885.6,1261.8 889.9,1241.8 895.5,1246.4 899.9,1250.8 905.9,1273.8 909.9,1252.8 914.3,1242.4 919.9,1241.8 924.3,1217.9 929.9,1196.9 934.3,1207.9 939.9,1214.9 943.8,1214.5 948.2,1203.9 953.8,1252.8 957.8,1249.8 963.4,1259.2 967.8,1264.8 973.8,1232.8 978.8,1269.8 983.8,1294.3 988.2,1276.8 993.8,1280.4 998.2,1281.8 1002.1,1301.1 1007.7,1298.7 1012.1,1318.7 1018.1,1300.7 1022.1,1263.8 1031.7,1263.2 1036.1,1250.8 1041.7,1252.4 1046.1,1306.7 1052.1,1313.1 1056.0,1338.3 1061.6,1342.2 1066.0,1344.6 1071.6,1311.1 1076.0,1321.1 1080.6,1315.7 1085.6,1314.7 1090.0,1286.7 1096.0,1287.7 1100.0,1270.4 1106.0,1288.3 1110.0,1272.4 1113.9,1296.3 1120.5,1271.8 1124.5,1264.4 1129.9,1251.2 1133.9,1247.2 1139.5,1253.8 1143.9,1257.8 1149.9,1241.2 1153.9,1249.2 1159.5,1235.8 1163.9,1225.3 1168.2,1200.9 1173.8,1211.9 1177.8,1212.5 1183.8,1219.3 1187.8,1221.3 1193.8,1242.8 1197.8,1248.4 1201.8,1231.2 1208.2,1225.9 1212.2,1225.9 1217.8,1265.2 1222.1,1247.8 1228.1,1238.4 1232.1,1212.5 1237.7,1227.9 1242.1,1236.8 1246.1,1226.9 1252.1,1276.8 1256.1,1291.7 1261.7,1301.7 1266.1,1266.4 1271.3,1293.1 1276.1,1305.7 1280.0,1290.3 1285.6,1287.7 1290.0,1286.7 1295.6,1301.7 1300.0,1306.3 1305.6,1284.7 1310.0,1292.7 1316.0,1304.3 1319.9,1290.7 1324.3,1286.7 1329.9,1270.8 1334.3,1267.8 1339.9,1249.8 1344.3,1236.8 1349.9,1223.9 1354.3,1232.8 1359.9,1239.8 1364.3,1231.8 1368.3,1214.5 1373.8,1200.5 1378.2,1208.5 1383.8,1205.9 1388.2,1191.3 1393.8,1221.9 1397.8,1231.8 1403.8,1227.3 1408.2,1250.8 1412.2,1259.8 1417.8,1255.8 1422.2,1249.8 1428.2,1271.8 1432.1,1275.8 1437.7,1267.8 1442.1,1289.1 1446.1,1225.9 1451.7,1209.9 1456.1,1223.9 1461.7,1227.9 1466.1,1229.8 1472.1,1232.8 1476.1,1223.9 1482.1,1198.9 1486.4,1192.9 1490.0,1220.9 1496.0,1200.9 1500.0,1183.9 1506.0,1172.9 1510.4,1168.6 1516.0,1192.9 1520.0,1173.9 1526.0,1189.9 1530.0,1183.9 1534.0,1218.9 1540.0,1238.8 1543.9,1252.8 1549.9,1242.8 1553.9,1254.8 1559.9,1240.8 1564.3,1230.4 1569.9,1242.8 1574.3,1263.8 1578.3,1270.4 1583.9,1273.8 1588.3,1246.8 1593.9,1248.4 1598.2,1225.3 1603.8,1235.8 1608.2,1233.2 1612.2,1217.9 1617.8,1218.5 1622.2,1245.8 1627.8,1219.9 1632.2,1242.8 1638.2,1227.9 1642.2,1236.8 1648.2,1247.8 1652.1,1275.2 1656.1,1283.8 1662.1,1288.7 1666.1,1308.7 1672.1,1307.7 1676.1,1303.7 1682.1,1317.7 1686.1,1318.7 1691.7,1318.7 1696.1,1327.7 1706.1,1343.6 1710.0,1352.6 1716.0,1327.1 1720.4,1333.1" fill="none" stroke="#7e57c2" stroke-width="2" stroke-linejoin="round"/>
<path d="M0.0 1291.7C1.6 1288.8 1.7 1287.7 6.0 1280.8C10.2 1273.8 10.6 1273.0 16.0 1265.8C21.3 1258.6 21.4 1258.6 26.0 1253.8C30.5 1249.0 29.2 1251.8 32.9 1247.8C36.7 1243.8 35.4 1242.0 39.9 1238.8C44.5 1235.6 44.6 1237.5 49.9 1235.8C55.2 1234.1 55.6 1233.0 59.9 1232.4C64.2 1231.9 61.9 1231.5 65.9 1233.8C69.9 1236.2 70.1 1239.1 74.9 1241.2C79.7 1243.4 79.9 1241.5 83.8 1241.8C87.8 1242.1 86.6 1243.2 89.8 1242.4C93.0 1241.6 92.1 1242.2 95.8 1238.8C99.6 1235.5 99.8 1233.6 103.8 1229.8C107.8 1226.1 107.1 1228.7 110.8 1224.9C114.5 1221.0 113.3 1218.9 117.8 1215.3C122.3 1211.7 122.4 1212.9 127.8 1211.3C133.1 1209.7 133.5 1210.0 137.8 1209.3C142.0 1208.5 140.5 1207.6 143.7 1208.5C146.9 1209.3 146.0 1209.6 149.7 1212.5C153.5 1215.4 153.5 1214.4 157.7 1219.3C162.0 1224.2 161.4 1224.5 165.7 1230.8C170.0 1237.2 168.9 1236.3 173.7 1243.2C178.5 1250.1 178.9 1251.0 183.7 1256.8C188.5 1262.5 187.4 1261.0 191.7 1264.8C195.9 1268.6 194.8 1267.4 199.6 1271.2C204.4 1274.9 202.7 1274.1 209.6 1278.8C216.5 1283.4 217.6 1284.7 225.6 1288.7C233.6 1292.7 233.2 1290.4 239.6 1293.7C246.0 1297.0 244.8 1298.3 249.6 1301.1C254.3 1303.9 252.7 1303.6 257.5 1304.3C262.3 1305.0 261.7 1303.6 267.5 1303.7C273.4 1303.8 273.6 1304.2 279.5 1304.7C285.4 1305.2 284.2 1304.6 289.5 1305.7C294.8 1306.8 293.6 1308.3 299.5 1308.7C305.3 1309.1 305.1 1307.4 311.4 1307.1C317.8 1306.8 316.5 1305.7 323.4 1307.7C330.3 1309.7 330.5 1312.3 337.4 1314.7C344.3 1317.1 342.5 1315.0 349.4 1316.7C356.3 1318.4 357.5 1319.8 363.3 1321.1C369.2 1322.4 366.3 1319.9 371.3 1321.7C376.4 1323.4 377.5 1326.2 382.3 1327.7C387.1 1329.1 384.2 1328.1 389.3 1327.1C394.4 1326.0 395.4 1326.0 401.3 1323.7C407.1 1321.3 405.9 1320.8 411.3 1318.3C416.6 1315.8 416.2 1317.6 421.2 1314.3C426.2 1310.9 426.1 1309.1 430.0 1305.7C433.9 1302.4 432.8 1303.8 436.0 1301.7C439.2 1299.6 438.3 1302.0 442.0 1297.7C445.7 1293.5 445.2 1290.5 450.0 1285.7C454.8 1281.0 454.6 1281.7 459.9 1279.8C465.3 1277.8 464.6 1279.3 469.9 1278.4C475.3 1277.5 475.7 1277.3 479.9 1276.4C484.2 1275.4 482.2 1277.4 485.9 1274.8C489.6 1272.1 490.2 1269.7 493.9 1266.4C497.6 1263.1 497.1 1264.5 499.9 1262.4C502.6 1260.3 500.5 1260.7 504.3 1258.4C508.0 1256.1 509.7 1255.0 513.8 1253.8C518.0 1252.6 516.6 1254.9 519.8 1253.8C523.0 1252.7 522.6 1252.7 525.8 1249.8C529.0 1246.9 528.6 1246.9 531.8 1242.8C535.0 1238.7 534.6 1238.2 537.8 1234.4C541.0 1230.7 540.6 1232.5 543.8 1228.8C547.0 1225.2 546.1 1224.7 549.8 1220.9C553.5 1217.0 553.9 1216.6 557.8 1214.5C561.6 1212.3 561.0 1214.4 564.2 1212.9C567.4 1211.4 566.1 1211.1 569.7 1208.9C573.4 1206.6 574.3 1206.6 577.7 1204.5C581.2 1202.4 579.5 1202.0 582.7 1200.9C585.9 1199.8 586.8 1200.1 589.7 1200.5C592.6 1200.9 591.0 1200.3 593.7 1202.5C596.4 1204.7 596.0 1205.1 599.7 1208.9C603.4 1212.7 603.4 1211.3 607.7 1216.9C611.9 1222.5 610.9 1223.9 615.7 1229.8C620.5 1235.8 620.3 1235.8 625.6 1239.2C631.0 1242.7 631.4 1240.8 635.6 1242.8C639.9 1244.8 638.4 1244.7 641.6 1246.8C644.8 1248.9 644.1 1249.3 647.6 1250.8C651.1 1252.3 651.4 1252.3 654.6 1252.4C657.8 1252.5 656.4 1252.4 659.6 1251.2C662.8 1250.0 662.3 1250.8 666.6 1247.8C670.8 1244.8 671.6 1243.8 675.6 1239.8C679.6 1235.8 677.8 1236.8 681.5 1232.8C685.3 1228.8 685.7 1227.9 689.5 1224.9C693.4 1221.8 693.2 1221.7 695.9 1221.3C698.7 1220.8 697.6 1221.5 699.9 1223.3C702.2 1225.0 702.0 1226.4 704.5 1227.9C707.1 1229.3 706.0 1227.5 709.5 1228.8C713.0 1230.2 713.2 1230.7 717.5 1232.8C721.7 1235.0 721.7 1235.1 725.5 1236.8C729.2 1238.5 727.6 1237.4 731.5 1239.2C735.3 1241.1 736.4 1241.5 739.8 1243.8C743.3 1246.1 741.9 1245.2 744.4 1247.8C747.0 1250.5 745.4 1249.5 749.4 1253.8C753.4 1258.1 754.1 1259.5 759.4 1263.8C764.7 1268.0 764.4 1267.3 769.4 1269.8C774.4 1272.3 773.3 1270.9 778.2 1273.2C783.1 1275.5 782.6 1275.5 787.8 1278.4C792.9 1281.2 793.5 1281.4 797.3 1283.8C801.2 1286.1 799.4 1285.9 802.1 1287.1C804.9 1288.4 805.1 1287.1 807.7 1288.3C810.4 1289.6 808.3 1289.8 812.1 1291.7C815.9 1293.7 817.0 1294.0 822.1 1295.7C827.2 1297.5 826.2 1297.3 831.3 1298.3C836.4 1299.4 837.3 1298.4 841.3 1299.7C845.2 1301.0 843.3 1301.9 846.1 1303.1C848.8 1304.3 847.9 1304.2 851.6 1304.3C855.4 1304.5 856.3 1304.2 860.0 1303.7C863.7 1303.2 862.9 1303.4 865.6 1302.3C868.3 1301.3 867.2 1300.8 870.0 1299.7C872.8 1298.7 871.8 1300.5 876.0 1298.3C880.1 1296.2 881.8 1294.7 885.6 1291.7C889.3 1288.8 886.1 1290.7 889.9 1287.1C893.8 1283.6 895.7 1281.4 899.9 1278.4C904.2 1275.3 902.1 1279.1 905.9 1275.8C909.8 1272.4 910.6 1269.7 914.3 1265.8C918.0 1261.9 915.7 1265.3 919.9 1261.2C924.0 1257.1 926.0 1254.9 929.9 1250.4C933.7 1245.9 931.6 1247.1 934.3 1244.4C936.9 1241.8 936.1 1243.4 939.9 1240.4C943.6 1237.4 943.4 1235.2 948.2 1233.2C953.0 1231.3 952.6 1232.7 957.8 1233.2C963.0 1233.8 963.5 1235.6 967.8 1235.2C972.1 1234.9 970.9 1232.2 973.8 1231.8C976.7 1231.5 975.0 1231.6 978.8 1233.8C982.6 1236.1 983.0 1236.2 988.2 1240.4C993.3 1244.7 994.4 1245.7 998.2 1249.8C1001.9 1253.9 999.6 1252.3 1002.1 1255.8C1004.7 1259.3 1003.5 1257.1 1007.7 1262.8C1012.0 1268.5 1011.7 1272.8 1018.1 1277.2C1024.5 1281.5 1026.9 1278.8 1031.7 1279.2C1036.5 1279.5 1033.4 1278.2 1036.1 1278.4C1038.7 1278.5 1039.0 1278.7 1041.7 1279.8C1044.3 1280.8 1043.3 1281.1 1046.1 1282.4C1048.8 1283.6 1048.4 1281.7 1052.1 1284.3C1055.7 1287.0 1055.9 1288.8 1059.6 1292.3C1063.4 1295.9 1062.8 1296.1 1066.0 1297.7C1069.2 1299.3 1069.0 1297.8 1071.6 1298.3C1074.3 1298.9 1072.3 1299.2 1076.0 1299.7C1079.7 1300.3 1080.3 1299.3 1085.6 1300.3C1090.9 1301.4 1092.1 1302.6 1096.0 1303.7C1099.8 1304.8 1096.2 1303.0 1100.0 1304.3C1103.7 1305.6 1106.2 1307.8 1110.0 1308.7C1113.7 1309.6 1111.4 1308.8 1113.9 1307.7C1116.5 1306.6 1115.3 1308.8 1119.5 1304.7C1123.8 1300.6 1126.1 1297.2 1129.9 1292.3C1133.7 1287.4 1131.4 1289.0 1133.9 1286.3C1136.5 1283.7 1135.2 1286.2 1139.5 1282.4C1143.8 1278.5 1144.6 1277.1 1149.9 1271.8C1155.2 1266.4 1155.7 1265.8 1159.5 1262.4C1163.2 1258.9 1160.0 1262.1 1163.9 1258.8C1167.7 1255.4 1167.4 1255.9 1173.8 1249.8C1180.2 1243.7 1181.4 1240.1 1187.8 1235.8C1194.2 1231.6 1192.4 1235.4 1197.8 1233.8C1203.2 1232.2 1204.3 1231.4 1208.2 1229.8C1212.0 1228.3 1209.6 1227.9 1212.2 1227.9C1214.7 1227.9 1213.5 1229.3 1217.8 1229.8C1222.0 1230.4 1224.3 1230.1 1228.1 1229.8C1232.0 1229.6 1228.4 1228.1 1232.1 1228.8C1235.9 1229.6 1238.1 1231.2 1242.1 1232.8C1246.2 1234.4 1243.6 1232.1 1247.3 1234.8C1251.0 1237.6 1252.3 1240.0 1256.1 1243.2C1259.9 1246.4 1259.0 1245.3 1261.7 1246.8C1264.3 1248.3 1263.5 1247.2 1266.1 1248.8C1268.6 1250.4 1267.5 1249.1 1271.3 1252.8C1275.0 1256.5 1276.2 1259.6 1280.0 1262.8C1283.9 1266.0 1283.0 1263.6 1285.6 1264.8C1288.3 1266.0 1287.3 1265.3 1290.0 1267.2C1292.7 1269.0 1292.9 1268.8 1295.6 1271.8C1298.3 1274.8 1297.3 1275.4 1300.0 1278.4C1302.6 1281.3 1302.9 1280.5 1305.6 1282.8C1308.2 1285.0 1307.2 1284.2 1310.0 1286.7C1312.7 1289.3 1313.3 1290.6 1316.0 1292.3C1318.6 1294.0 1317.7 1293.0 1319.9 1293.1C1322.2 1293.2 1321.7 1293.4 1324.3 1292.7C1327.0 1292.1 1327.3 1291.3 1329.9 1290.7C1332.6 1290.2 1331.7 1291.7 1334.3 1290.7C1337.0 1289.8 1337.2 1289.5 1339.9 1287.1C1342.6 1284.7 1340.5 1285.6 1344.3 1281.8C1348.1 1277.9 1350.1 1276.0 1354.3 1272.8C1358.4 1269.6 1356.1 1273.5 1359.9 1269.8C1363.6 1266.0 1364.5 1263.3 1368.3 1258.8C1372.0 1254.3 1369.7 1257.9 1373.8 1252.8C1378.0 1247.7 1380.0 1245.2 1383.8 1239.8C1387.7 1234.5 1385.6 1236.0 1388.2 1232.8C1390.9 1229.6 1389.7 1230.8 1393.8 1227.9C1398.0 1224.9 1400.0 1223.3 1403.8 1221.9C1407.6 1220.4 1404.5 1221.4 1408.2 1222.5C1411.9 1223.5 1412.4 1223.9 1417.8 1225.9C1423.1 1227.8 1422.8 1226.9 1428.2 1229.8C1433.5 1232.8 1434.0 1233.3 1437.7 1236.8C1441.5 1240.4 1438.4 1241.1 1442.1 1243.2C1445.9 1245.4 1448.0 1243.8 1451.7 1244.8C1455.4 1245.9 1452.3 1246.4 1456.1 1247.2C1459.9 1248.0 1461.8 1247.7 1466.1 1247.8C1470.3 1248.0 1469.0 1248.6 1472.1 1247.8C1475.2 1247.0 1473.8 1247.6 1477.7 1244.8C1481.5 1242.0 1481.5 1241.0 1486.4 1237.2C1491.3 1233.5 1490.8 1236.3 1496.0 1230.8C1501.2 1225.4 1502.2 1222.8 1506.0 1216.9C1509.8 1210.9 1506.7 1212.1 1510.4 1208.5C1514.1 1204.9 1515.8 1205.3 1520.0 1203.3C1524.1 1201.3 1522.9 1202.5 1526.0 1200.9C1529.1 1199.3 1527.9 1198.3 1531.6 1197.3C1535.2 1196.3 1535.8 1196.6 1539.6 1197.3C1543.3 1198.0 1542.8 1198.4 1545.5 1199.9C1548.3 1201.4 1547.7 1201.0 1549.9 1202.9C1552.2 1204.8 1551.3 1205.4 1553.9 1206.9C1556.6 1208.4 1557.1 1207.4 1559.9 1208.5C1562.7 1209.6 1561.6 1209.3 1564.3 1210.9C1567.0 1212.5 1566.2 1209.9 1569.9 1214.5C1573.6 1219.0 1573.4 1221.4 1578.3 1227.9C1583.2 1234.3 1584.1 1234.7 1588.3 1238.8C1592.4 1242.9 1591.2 1241.2 1593.9 1243.2C1596.5 1245.2 1595.6 1245.2 1598.2 1246.4C1600.9 1247.6 1601.2 1247.4 1603.8 1247.8C1606.5 1248.2 1606.0 1248.5 1608.2 1247.8C1610.5 1247.1 1608.5 1246.7 1612.2 1245.2C1615.9 1243.8 1618.0 1243.5 1622.2 1242.4C1626.4 1241.4 1625.1 1241.4 1627.8 1241.2C1630.5 1241.1 1629.4 1241.9 1632.2 1241.8C1635.0 1241.7 1635.5 1241.6 1638.2 1240.8C1640.8 1240.0 1639.5 1239.8 1642.2 1238.8C1644.8 1237.9 1645.5 1237.7 1648.2 1237.2C1650.8 1236.8 1648.4 1235.8 1652.1 1237.2C1655.9 1238.6 1658.4 1239.6 1662.1 1242.4C1665.9 1245.2 1663.5 1244.8 1666.1 1247.8C1668.8 1250.8 1667.9 1249.0 1672.1 1253.8C1676.4 1258.6 1678.4 1260.7 1682.1 1265.8C1685.8 1270.8 1683.5 1269.4 1686.1 1272.8C1688.6 1276.1 1689.0 1274.5 1691.7 1278.4C1694.3 1282.2 1692.2 1280.6 1696.1 1287.1C1699.9 1293.6 1702.3 1296.7 1706.1 1302.7C1709.8 1308.7 1706.2 1305.2 1710.0 1309.7C1713.9 1314.2 1717.7 1317.0 1720.4 1319.7" fill="none" stroke="#f2e143" stroke-width="2.3" stroke-linejoin="round"/>
<circle cx="1750.5" cy="691.8" r="34.6" fill="none" stroke="#e2351f" stroke-width="3.8"/>
<path d="M2071 0V1432" stroke="#6e6e6e" stroke-width="2" shape-rendering="crispEdges"/>
<path d="M0 1381H2204" stroke="#6e6e6e" stroke-width="2" shape-rendering="crispEdges"/>
<path d="M0 1144H2204" stroke="#eceefa" stroke-width="2" shape-rendering="crispEdges"/>
</svg>
<div class="pl" style="top:120.9px">1.14000</div>
<div class="pl" style="top:210.9px">1.13000</div>
<div class="pl" style="top:300.9px">1.12000</div>
<div class="pl" style="top:390.9px">1.11000</div>
<div class="pl" style="top:570.9px">1.09000</div>
<div class="pl" style="top:660.9px">1.08000</div>
<div class="pl" style="top:750.9px">1.07000</div>
<div class="pl" style="top:840.9px">1.06000</div>
<div class="pl" style="top:930.9px">1.05000</div>
<div class="pl" style="top:1020.9px">1.04000</div>
<div class="pl" style="top:1110.9px">1.03000</div>
<div class="pb" style="top:235px">1.12669</div>
<div class="pb" style="top:479.5px">1.09944</div>
<div class="pb" style="top:609.7px">1.08501</div>
<div class="pb" style="top:668.7px">1.07839</div>
<div class="pb" style="top:833px">1.06015</div>
<div class="pb" style="top:969px">1.04502</div>
<div style="position:absolute;left:2073px;top:1145px;width:131px;height:235px;overflow:hidden">
<div class="pl" style="left:15px;top:-6.7000000000000455px">80.00</div>
<div class="pl" style="left:15px;top:68.90000000000009px">60.00</div>
<div class="pl" style="left:15px;top:144.5px">40.00</div>
<div class="pl" style="left:15px;top:220.20000000000005px">20.00</div>
</div>
<div class="tl" style="left:60px">Jul</div>
<div class="tl" style="left:275px">Sep</div>
<div class="tl" style="left:485px">Nov</div>
<div class="tl" style="left:695.5px"><b>2024</b></div>
<div class="tl" style="left:910px">Mar</div>
<div class="tl" style="left:1119.7px">May</div>
<div class="tl" style="left:1330.3px">Jul</div>
<div class="tl" style="left:1550px">Sep</div>
<div class="tl" style="left:1764px">Nov</div>
<div class="tl" style="left:1974.2px"><b>2025</b></div>
<div class="t" id="title" style="left:61px;top:13px;font-size:30.8px;line-height:34px;color:#d8d8d8">Euro / U.S. Dollar · 1D · FXCM</div>
<div class="t" id="chg" style="left:582px;top:15px;font-size:26px;line-height:28px;color:#f4ae7c;letter-spacing:1.0px">−0.00155 (−0.14%)</div>
<svg style="position:absolute;left:10px;top:6px" width="46" height="44" viewBox="10 6 46 44">
<defs><clipPath id="us"><circle cx="41" cy="21.6" r="11.6"/></clipPath></defs>
<g clip-path="url(#us)"><rect x="29" y="9" width="24" height="26" fill="#f2f2f2"/>
<path d="M29 14.5H53M29 21.5H53M29 28.5H53" stroke="#d8453e" stroke-width="3.4"/>
<rect x="29" y="9" width="12" height="13" fill="#3a5fb5"/></g>
<circle cx="28" cy="34" r="14" fill="#000"/><circle cx="28" cy="34" r="12" fill="#2f54b4"/>
<g fill="#f5d033"><circle cx="28" cy="26.5" r="1.3"/><circle cx="28" cy="41.5" r="1.3"/><circle cx="20.5" cy="34" r="1.3"/><circle cx="35.5" cy="34" r="1.3"/><circle cx="22.7" cy="28.7" r="1.3"/><circle cx="33.3" cy="28.7" r="1.3"/><circle cx="22.7" cy="39.3" r="1.3"/><circle cx="33.3" cy="39.3" r="1.3"/></g>
</svg>
<svg style="position:absolute;left:510px;top:10px" width="40" height="40" viewBox="0 0 40 40"><circle cx="19.6" cy="18.6" r="17.5" fill="#3b1020"/>
<path d="M11.5 15.5c3-3.4 5.4-2.6 8 -0.6s5 2.2 8-0.6M11.5 23.5c3-3.4 5.4-2.6 8 -0.6s5 2.2 8-0.6" fill="none" stroke="#e2345a" stroke-width="2.6" stroke-linecap="round"/></svg>
<div style="position:absolute;left:2078px;top:4px;width:120px;height:52px;background:#141722;border:2px solid #2c303c;border-radius:8px"></div>
<div class="t" id="usd" style="left:2086.5px;top:16px;font-size:23px;line-height:28px;color:#d4d6dc;letter-spacing:0.2px">USD</div>
<svg style="position:absolute;left:2173px;top:23px" width="20" height="16" viewBox="0 0 20 16"><path d="M5 5l4.6 4.6 4.6-4.6" fill="none" stroke="#d4d6dc" stroke-width="2.6"/></svg>
<div class="t" id="kbt" style="left:1629px;top:743.5px;font-size:47px;line-height:50px;font-weight:700;color:#e23a1f">Key bearish target</div>
<svg style="position:absolute;left:1808px;top:1082px" width="50" height="56" viewBox="1808 1082 50 56">
<path d="M1833 1084.5L1855.5 1097V1123L1833 1135.7L1810.6 1123V1097Z" fill="#dc3120"/>
<path d="M1833 1099L1843.5 1105V1116.5L1833 1122.5L1822.5 1116.5V1105Z" fill="#000"/>
<path d="M1841 1104L1857 1094.5" stroke="#000" stroke-width="4.2"/><path d="M1809 1125.5L1825 1116" stroke="#000" stroke-width="4.2"/>
</svg>
<div class="t" id="tick" style="left:1868px;top:1088px;font-size:40.5px;line-height:44px;font-weight:700;color:#fff;letter-spacing:0.5px">TICKMILL</div>
<svg style="position:absolute;left:1690px;top:1086px" width="60" height="60" viewBox="1690 1086 60 60"><circle cx="1720" cy="1118.8" r="22.6" fill="#14151e"/><circle cx="1720" cy="1118.8" r="19.6" fill="#14151e" stroke="#a54fc6" stroke-width="3.2"/>
<path d="M1726.4 1108.2L1711.4 1119.7L1718.6 1120.7L1713.3 1128.9L1714.5 1130.1L1728.4 1118.5L1721.5 1117.7L1727.2 1109.7Z" fill="#a54fc6"/></svg>
<svg style="position:absolute;left:12px;top:1312px" width="80" height="52" viewBox="12 1312 80 52">
<g stroke="#1a1c26" stroke-width="8" stroke-linejoin="round" fill="#1a1c26"><path d="M22.3 1323.1H46.3V1352.4H33.9V1334.7H22.3Z"/><circle cx="55.5" cy="1328.8" r="5.8"/><path d="M69.4 1323.1H81.8L70.2 1352.4H56.3Z"/></g>
<g fill="#d2d4dc"><path d="M22.3 1323.1H46.3V1352.4H33.9V1334.7H22.3Z"/><circle cx="55.5" cy="1328.8" r="5.8"/><path d="M69.4 1323.1H81.8L70.2 1352.4H56.3Z"/></g></svg>
<div class="t" id="tv" style="left:96px;top:1313.4px;font-size:43.5px;line-height:48px;font-weight:700;color:#d2d4dc;letter-spacing:-1.25px;-webkit-text-stroke:9px #1a1c26;paint-order:stroke fill">TradingView</div>
<div class="t" style="left:96px;top:1313.4px;font-size:43.5px;line-height:48px;font-weight:700;color:#d2d4dc;letter-spacing:-1.25px">TradingView</div>
<svg style="position:absolute;left:2120px;top:1390px" width="38" height="38" viewBox="0 0 38 38"><path d="M12 7.5H26L33 19L26 30.5H12L5 19Z" fill="none" stroke="#d9d9d9" stroke-width="2.2" stroke-linejoin="round"/><circle cx="19" cy="19" r="4.3" fill="none" stroke="#d9d9d9" stroke-width="2.2"/></svg>
</body></html>
